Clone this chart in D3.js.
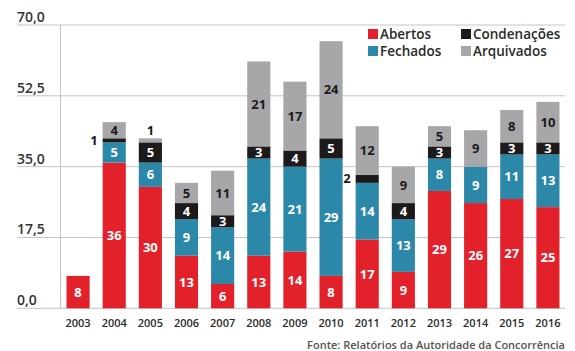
<!DOCTYPE html>
<html>
<head>
<meta charset="utf-8">
<script src="https://cdn.jsdelivr.net/npm/d3@7"></script>
<style>
  body { margin: 0; background: #fff; }
  svg { display: block; font-family: "Open Sans", "DejaVu Sans", sans-serif; }
</style>
</head>
<body>
<svg id="chart"></svg>
<script>
// Processos da Autoridade da Concorrência, por ano
const years = ['2003', '2004', '2005', '2006', '2007', '2008', '2009', '2010', '2011', '2012', '2013', '2014', '2015', '2016'];
const abertos = [8, 36, 30, 13, 6, 13, 14, 8, 17, 9, 29, 26, 27, 25];
const fechados = [0, 5, 6, 9, 14, 24, 21, 29, 14, 13, 8, 9, 11, 13];
const condenacoes = [0, 1, 5, 4, 3, 3, 4, 5, 2, 4, 3, 0, 3, 3];
const arquivados = [0, 4, 1, 5, 11, 21, 17, 24, 12, 9, 5, 9, 8, 10];
const yTicks = [0, 17.5, 35, 52.5, 70];

const seriesKeys = ['abertos', 'fechados', 'condenacoes', 'arquivados'];
const seriesNames = ['Abertos', 'Fechados', 'Condenações', 'Arquivados'];
const colors = ['#e3212b', '#2b88a8', '#1c1a1b', '#a7a7a9'];
const textColors = ['#fff', '#fff', '#fff', '#1c1a1b'];

const width = 575;
const height = 351;

const svg = d3.select('#chart')
  .attr('width', width)
  .attr('height', height);

// build table for d3.stack
const table = years.map((y, i) => ({
  year: y,
  abertos: abertos[i],
  fechados: fechados[i],
  condenacoes: condenacoes[i],
  arquivados: arquivados[i],
}));

const xScale = d3.scaleBand()
  .domain(years)
  .range([60, 566])
  .paddingInner(0.36)
  .paddingOuter(0.18);

const yScale = d3.scaleLinear()
  .domain([0, 70])
  .range([308.3, 25]);

// gridlines
svg.append('g')
  .selectAll('line')
  .data(yTicks)
  .join('line')
  .attr('x1', 17)
  .attr('x2', 565)
  .attr('y1', (d) => yScale(d))
  .attr('y2', (d) => yScale(d))
  .attr('stroke', '#c4c4c4')
  .attr('stroke-width', 1);

// vertical axis line
svg.append('line')
  .attr('x1', 60.5).attr('x2', 60.5)
  .attr('y1', yScale(70)).attr('y2', yScale(0))
  .attr('stroke', '#c4c4c4');

// y tick labels sit above the gridline
svg.append('g')
  .selectAll('text')
  .data(yTicks)
  .join('text')
  .attr('x', 17)
  .attr('y', (d) => yScale(d) - 3)
  .attr('fill', '#333')
  .style('font-size', '14px')
  .style('font-weight', 600)
  .text((d) => d3.format('.1f')(d).replace('.', ','));

// stacked bars
const stack = d3.stack().keys(seriesKeys);
const stacked = stack(table);

const layers = svg.append('g')
  .selectAll('g')
  .data(stacked)
  .join('g')
  .attr('fill', (d, i) => colors[i]);

layers.selectAll('rect')
  .data((d) => d.filter((s) => s[1] - s[0] > 0))
  .join('rect')
  .attr('x', (d) => xScale(d.data.year))
  .attr('width', xScale.bandwidth())
  .attr('y', (d) => yScale(d[1]))
  .attr('height', (d) => yScale(d[0]) - yScale(d[1]));

// value labels
const labels = svg.append('g')
  .style('font-size', '13px')
  .style('font-weight', 700)
  .attr('text-anchor', 'middle');

stacked.forEach((layer, li) => {
  layer.forEach((s) => {
    const v = s[1] - s[0];
    if (v <= 0) return;
    const h = yScale(s[0]) - yScale(s[1]);
    const cx = xScale(s.data.year) + xScale.bandwidth() / 2;
    const cy = (yScale(s[0]) + yScale(s[1])) / 2;
    if (h >= 12) {
      labels.append('text')
        .attr('x', cx)
        .attr('y', cy)
        .attr('dy', '0.36em')
        .attr('fill', textColors[li])
        .text(v);
    } else if (li === seriesKeys.length - 1) {
      // thin top segment: label above bar
      labels.append('text')
        .attr('x', cx)
        .attr('y', yScale(s[1]) - 3)
        .attr('fill', '#1c1a1b')
        .text(v);
    } else {
      // thin middle segment: label left of bar
      labels.append('text')
        .attr('x', xScale(s.data.year) - 5)
        .attr('y', cy)
        .attr('dy', '0.36em')
        .attr('text-anchor', 'end')
        .attr('fill', '#1c1a1b')
        .text(v);
    }
  });
});

// x axis labels
svg.append('g')
  .selectAll('text')
  .data(years)
  .join('text')
  .attr('x', (d) => xScale(d) + xScale.bandwidth() / 2)
  .attr('y', 327)
  .attr('text-anchor', 'middle')
  .attr('fill', '#2a2a2a')
  .style('font-size', '11px')
  .style('font-weight', 600)
  .text((d) => d);

// legend
const legendPos = [[368, 34], [368, 51], [461, 34], [461, 51]];
const legend = svg.append('g');
seriesNames.forEach((name, i) => {
  const [lx, ly] = legendPos[i];
  legend.append('rect')
    .attr('x', lx).attr('y', ly - 5)
    .attr('width', 10).attr('height', 10)
    .attr('fill', colors[i]);
  legend.append('text')
    .attr('x', lx + 12).attr('y', ly)
    .attr('dy', '0.36em')
    .attr('fill', '#2a2a2a')
    .style('font-size', '13.5px')
    .style('font-weight', 600)
    .text(name);
});

// source
svg.append('text')
  .attr('x', 565)
  .attr('y', 349)
  .attr('text-anchor', 'end')
  .attr('fill', '#555')
  .style('font-size', '11px')
  .style('font-weight', 600)
  .text('Fonte: Relatórios da Autoridade da Concorrência');
</script>
</body>
</html>
